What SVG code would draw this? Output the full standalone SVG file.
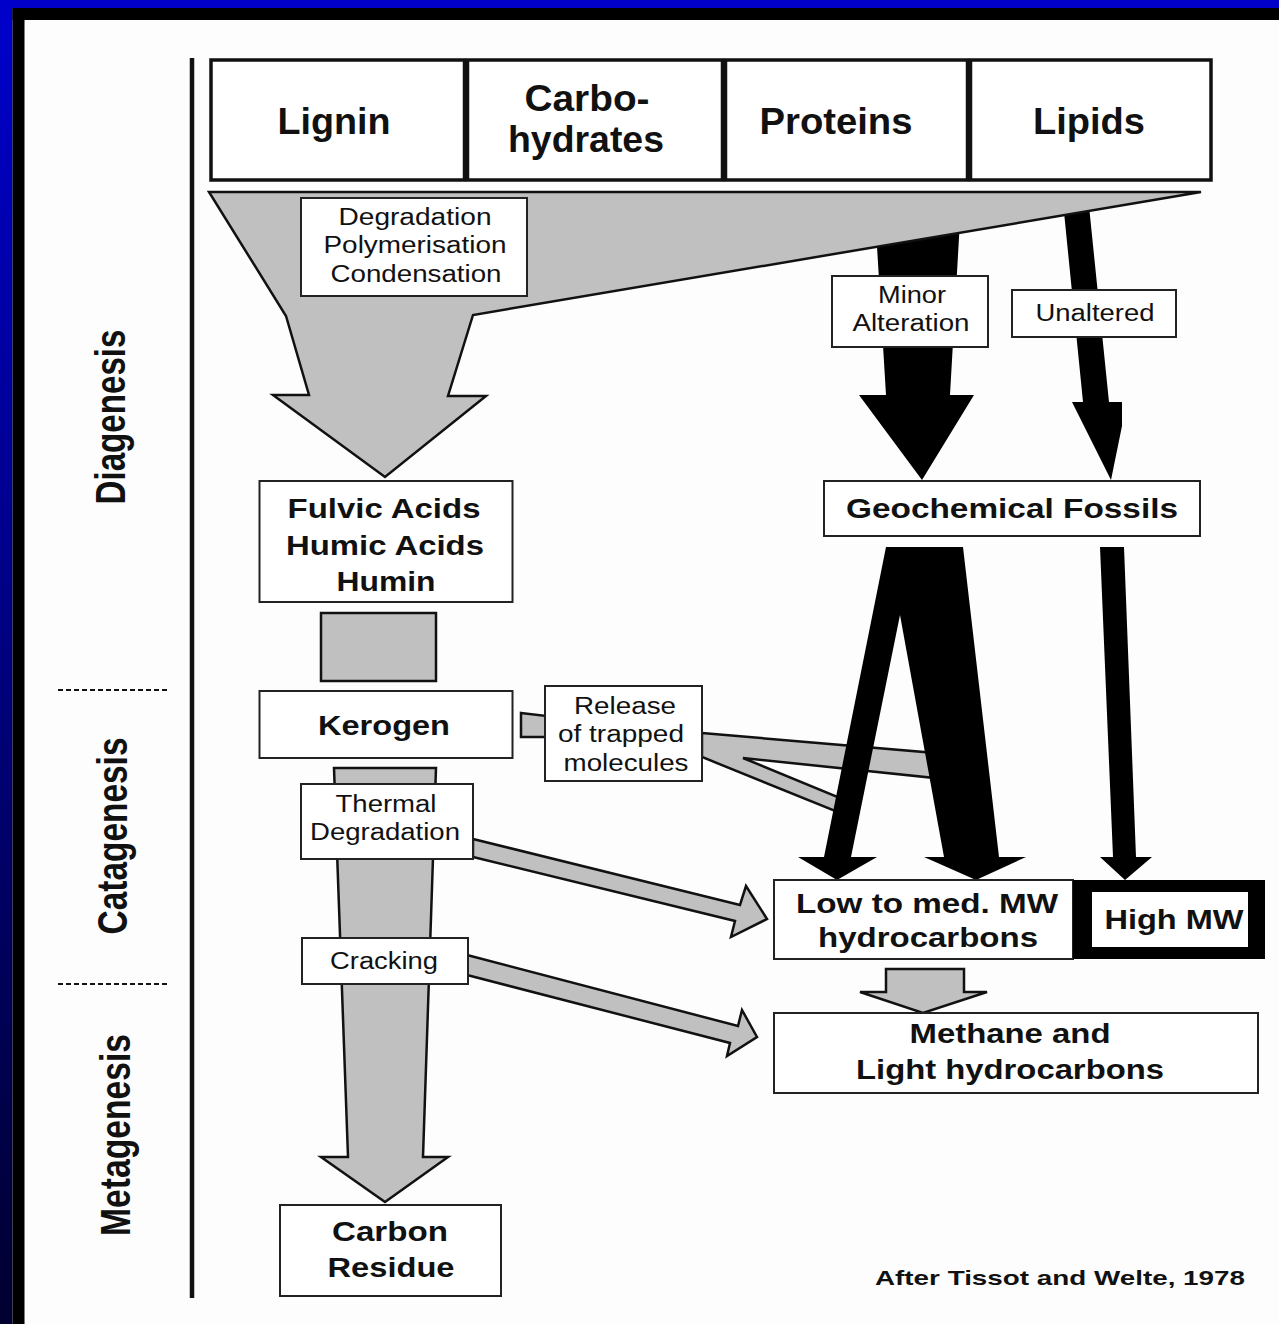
<svg xmlns="http://www.w3.org/2000/svg" width="1279" height="1324" viewBox="0 0 1279 1324">
<defs>
<linearGradient id="lg" x1="0" y1="0" x2="0" y2="1">
<stop offset="0" stop-color="#0000cc"/>
<stop offset="1" stop-color="#000030"/>
</linearGradient>
</defs>
<style>
.box{fill:#fff;stroke:#222;stroke-width:2}
.hdr{fill:#fff;stroke:#111;stroke-width:3.5}
.gray{fill:#c0c0c0;stroke:#111;stroke-width:2.5;stroke-linejoin:miter}
.blk{fill:#000}
.b{font-family:"Liberation Sans",Arial,sans-serif;font-weight:bold;fill:#111;text-anchor:middle}
.r{font-family:"Liberation Sans",Arial,sans-serif;fill:#111;text-anchor:middle}
.dash{stroke:#111;stroke-width:2;stroke-dasharray:5 3;fill:none}
</style>
<rect x="0" y="0" width="1279" height="1324" fill="#fdfdfd"/>
<g id="frame">
<rect x="0" y="0" width="1279" height="8" fill="#0000c8"/>
<rect x="0" y="0" width="12.5" height="1324" fill="url(#lg)"/>
<rect x="12.5" y="8" width="1266.5" height="12" fill="#000"/>
<rect x="12.5" y="8" width="12" height="1316" fill="#000"/>
</g>
<g id="axis">
<line x1="192" y1="58" x2="192" y2="1298" stroke="#111" stroke-width="4.5"/>
<line class="dash" x1="58" y1="690" x2="170" y2="690"/>
<line class="dash" x1="58" y1="984" x2="170" y2="984"/>
<text class="b" font-size="42" transform="translate(125,417) rotate(-90)" textLength="175" lengthAdjust="spacingAndGlyphs">Diagenesis</text>
<text class="b" font-size="42" transform="translate(127,836) rotate(-90)" textLength="197" lengthAdjust="spacingAndGlyphs">Catagenesis</text>
<text class="b" font-size="42" transform="translate(130,1135) rotate(-90)" textLength="202" lengthAdjust="spacingAndGlyphs">Metagenesis</text>
</g>
<g id="connectors">
<polygon class="gray" points="702,733 935,753 935,778 743,758 845,800 845,815 702,757"/>
<polygon class="blk" points="876,230 960,220 950,395 974,395 922,480 859,395 886,395"/>
<polygon class="blk" points="1064,212 1089,206 1109,402 1122,402 1122,426 1111,480 1072,402 1083,402"/>
<polygon class="gray" points="209,192 1201,192 473,315 448,396 486,396 385,477 273,395 309,395 286,316" stroke-width="3"/>
<polygon class="blk" points="886,547 963,547 999,857 1026,857 976,880 924,857 944,857 900,615 851,857 877,857 837,880 798,857 824,857"/>
<polygon class="blk" points="1100,547 1124,547 1136,857 1152,857 1125,880 1100,857 1113,857"/>
<rect class="gray" x="321" y="613" width="115" height="68"/>
<polygon class="gray" points="521,713 547,716 547,737 521,737"/>
<polygon class="gray" points="334,768 436,768 423,1157 448,1157 385,1202 321,1157 348,1157"/>
<polygon class="gray" points="473,839 740,905 746,886 767,919 731,937 735,921 473,857"/>
<polygon class="gray" points="467,955 738,1026 742,1010 757,1037 727,1056 730,1043 467,975"/>
<polygon class="gray" points="886,969 964,969 964,992 987,992 923,1013 860,992 886,992"/>
</g>
<g id="n-lignin">
<rect class="hdr" x="211" y="60" width="253.5" height="120"/>
<text class="b" font-size="36" x="334" y="134" textLength="113" lengthAdjust="spacingAndGlyphs">Lignin</text>
</g>
<g id="n-carbohydrates">
<rect class="hdr" x="467.5" y="60" width="255" height="120"/>
<text class="b" font-size="36" x="587" y="111" textLength="125" lengthAdjust="spacingAndGlyphs">Carbo-</text>
<text class="b" font-size="36" x="586" y="152" textLength="156" lengthAdjust="spacingAndGlyphs">hydrates</text>
</g>
<g id="n-proteins">
<rect class="hdr" x="725.5" y="60" width="242" height="120"/>
<text class="b" font-size="36" x="836" y="134" textLength="153" lengthAdjust="spacingAndGlyphs">Proteins</text>
</g>
<g id="n-lipids">
<rect class="hdr" x="970.5" y="60" width="240.5" height="120"/>
<text class="b" font-size="36" x="1089" y="134" textLength="112" lengthAdjust="spacingAndGlyphs">Lipids</text>
</g>
<g id="n-degradation">
<rect class="box" x="301" y="198" width="226" height="98"/>
<text class="r" font-size="23" x="415" y="225" textLength="153" lengthAdjust="spacingAndGlyphs">Degradation</text>
<text class="r" font-size="23" x="415" y="253" textLength="183" lengthAdjust="spacingAndGlyphs">Polymerisation</text>
<text class="r" font-size="23" x="416" y="282" textLength="171" lengthAdjust="spacingAndGlyphs">Condensation</text>
</g>
<g id="n-minor">
<rect class="box" x="832" y="276" width="156" height="71"/>
<text class="r" font-size="23" x="912" y="303" textLength="68" lengthAdjust="spacingAndGlyphs">Minor</text>
<text class="r" font-size="23" x="911" y="331" textLength="117" lengthAdjust="spacingAndGlyphs">Alteration</text>
</g>
<g id="n-unaltered">
<rect class="box" x="1012" y="290" width="164" height="47"/>
<text class="r" font-size="23" x="1095" y="321" textLength="119" lengthAdjust="spacingAndGlyphs">Unaltered</text>
</g>
<g id="n-fulvic">
<rect class="box" x="259.5" y="481" width="253" height="121"/>
<text class="b" font-size="27" x="384" y="518" textLength="193" lengthAdjust="spacingAndGlyphs">Fulvic Acids</text>
<text class="b" font-size="27" x="385" y="555" textLength="198" lengthAdjust="spacingAndGlyphs">Humic Acids</text>
<text class="b" font-size="27" x="386" y="591" textLength="99" lengthAdjust="spacingAndGlyphs">Humin</text>
</g>
<g id="n-geochemical">
<rect class="box" x="824" y="481" width="376" height="55"/>
<text class="b" font-size="28" x="1012" y="518" textLength="332" lengthAdjust="spacingAndGlyphs">Geochemical Fossils</text>
</g>
<g id="n-kerogen">
<rect class="box" x="259.5" y="691" width="253" height="67"/>
<text class="b" font-size="28" x="384" y="735" textLength="132" lengthAdjust="spacingAndGlyphs">Kerogen</text>
</g>
<g id="n-release">
<rect class="box" x="545" y="686" width="157" height="95"/>
<text class="r" font-size="23" x="625" y="714" textLength="102" lengthAdjust="spacingAndGlyphs">Release</text>
<text class="r" font-size="23" x="621" y="742" textLength="126" lengthAdjust="spacingAndGlyphs">of trapped</text>
<text class="r" font-size="23" x="626" y="771" textLength="125" lengthAdjust="spacingAndGlyphs">molecules</text>
</g>
<g id="n-thermal">
<rect class="box" x="301" y="784" width="172" height="75"/>
<text class="r" font-size="23" x="386" y="812" textLength="101" lengthAdjust="spacingAndGlyphs">Thermal</text>
<text class="r" font-size="23" x="385" y="840" textLength="150" lengthAdjust="spacingAndGlyphs">Degradation</text>
</g>
<g id="n-cracking">
<rect class="box" x="302" y="938" width="166" height="46"/>
<text class="r" font-size="23" x="384" y="969" textLength="108" lengthAdjust="spacingAndGlyphs">Cracking</text>
</g>
<g id="n-lowmed">
<rect class="box" x="774" y="880" width="299" height="79"/>
<text class="b" font-size="28" x="927" y="913" textLength="262" lengthAdjust="spacingAndGlyphs">Low to med. MW</text>
<text class="b" font-size="28" x="928" y="947" textLength="220" lengthAdjust="spacingAndGlyphs">hydrocarbons</text>
</g>
<g id="n-highmw">
<rect x="1073" y="880" width="192" height="79" fill="#000"/>
<rect x="1092" y="892" width="156" height="55" fill="#fff"/>
<text class="b" font-size="28" x="1174" y="929" textLength="139" lengthAdjust="spacingAndGlyphs">High MW</text>
</g>
<g id="n-methane">
<rect class="box" x="774" y="1013" width="484" height="80"/>
<text class="b" font-size="28" x="1010" y="1043" textLength="201" lengthAdjust="spacingAndGlyphs">Methane and</text>
<text class="b" font-size="28" x="1010" y="1079" textLength="308" lengthAdjust="spacingAndGlyphs">Light hydrocarbons</text>
</g>
<g id="n-carbon">
<rect class="box" x="280" y="1205" width="221" height="91"/>
<text class="b" font-size="27" x="390" y="1241" textLength="116" lengthAdjust="spacingAndGlyphs">Carbon</text>
<text class="b" font-size="27" x="391" y="1277" textLength="127" lengthAdjust="spacingAndGlyphs">Residue</text>
</g>
<g id="credit">
<text class="b" font-size="21" x="1060" y="1285" textLength="370" lengthAdjust="spacingAndGlyphs">After Tissot and Welte, 1978</text>
</g>
</svg>
